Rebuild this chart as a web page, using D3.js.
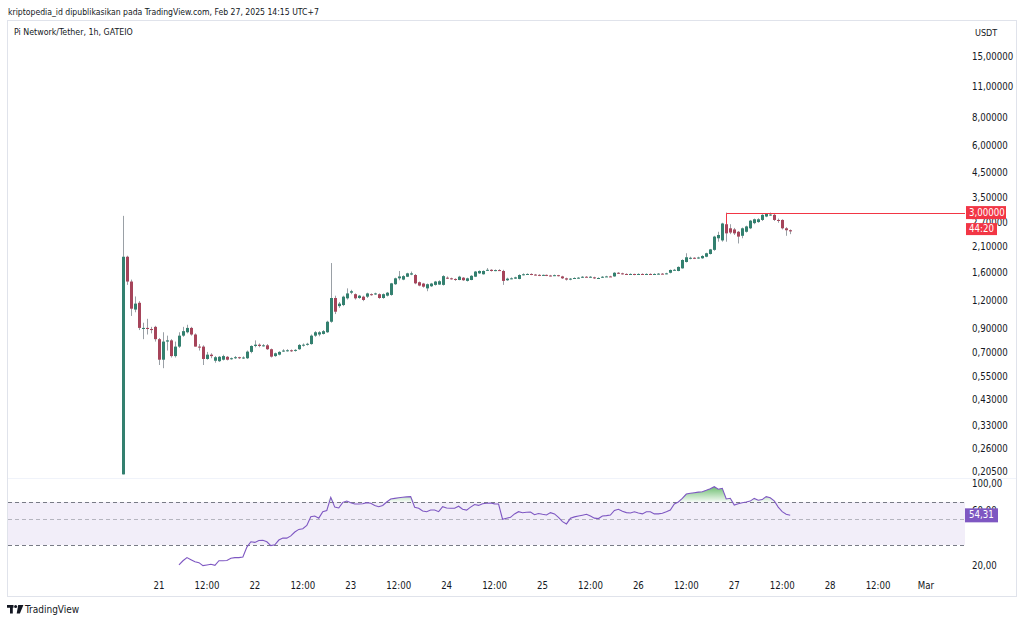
<!DOCTYPE html>
<html>
<head>
<meta charset="utf-8">
<script src="https://cdn.jsdelivr.net/npm/d3@7"></script>
<style>
  body { margin: 0; background: #fff; }
  svg { display: block; font-family: "Liberation Sans Narrow", "DejaVu Sans Condensed", "Liberation Sans", sans-serif; }
</style>
</head>
<body>
<svg id="chart" width="1024" height="623"></svg>
<script>
// ---- data (Pi Network / Tether 1h, GATEIO) ----
var headerText = "kriptopedia_id dipublikasikan pada TradingView.com, Feb 27, 2025 14:15 UTC+7";
var symbolText = "Pi Network/Tether, 1h, GATEIO";
var currency = "USDT";

// first hourly bar: Feb 20, 15:00 (UTC+7 wall clock, stored as UTC)
var firstBar = Date.UTC(2025, 1, 20, 15);

// [open, high, low, close] per hour
var ohlc = [
  [0.20, 2.90, 0.20, 1.90], [1.90, 1.92, 1.42, 1.47], [1.47, 1.50, 1.03, 1.11], [1.10, 1.26, 1.07, 1.17],
  [1.18, 1.20, 0.89, 0.91], [0.90, 0.96, 0.81, 0.91], [0.91, 1.00, 0.85, 0.90], [0.90, 0.92, 0.86, 0.89],
  [0.92, 0.93, 0.79, 0.81], [0.81, 0.82, 0.62, 0.655], [0.655, 0.87, 0.60, 0.79], [0.79, 0.84, 0.72, 0.80],
  [0.80, 0.81, 0.67, 0.68], [0.68, 0.79, 0.67, 0.75], [0.75, 0.87, 0.74, 0.84], [0.84, 0.92, 0.83, 0.88],
  [0.87, 0.94, 0.86, 0.91], [0.91, 0.92, 0.84, 0.85], [0.85, 0.86, 0.75, 0.75], [0.75, 0.77, 0.72, 0.745],
  [0.75, 0.76, 0.62, 0.66], [0.66, 0.71, 0.655, 0.69], [0.69, 0.70, 0.665, 0.68], [0.648, 0.68, 0.635, 0.672],
  [0.645, 0.68, 0.64, 0.675], [0.655, 0.69, 0.65, 0.68], [0.675, 0.68, 0.65, 0.655], [0.66, 0.67, 0.655, 0.665],
  [0.665, 0.68, 0.66, 0.672], [0.672, 0.675, 0.66, 0.665], [0.665, 0.678, 0.66, 0.67], [0.665, 0.72, 0.66, 0.712],
  [0.71, 0.76, 0.70, 0.755], [0.755, 0.80, 0.745, 0.765], [0.765, 0.775, 0.745, 0.755], [0.755, 0.77, 0.75, 0.76],
  [0.76, 0.77, 0.725, 0.73], [0.73, 0.735, 0.67, 0.676], [0.68, 0.705, 0.675, 0.70], [0.69, 0.715, 0.685, 0.71],
  [0.715, 0.73, 0.71, 0.72], [0.72, 0.73, 0.712, 0.722], [0.722, 0.728, 0.71, 0.718], [0.718, 0.73, 0.712, 0.725],
  [0.73, 0.77, 0.725, 0.763], [0.76, 0.775, 0.75, 0.765], [0.765, 0.78, 0.758, 0.772], [0.77, 0.85, 0.765, 0.84],
  [0.84, 0.88, 0.83, 0.87], [0.85, 0.88, 0.835, 0.87], [0.855, 0.89, 0.85, 0.88], [0.87, 0.98, 0.865, 0.97],
  [0.97, 1.78, 0.96, 1.24], [1.24, 1.27, 1.05, 1.076], [1.14, 1.19, 1.12, 1.17], [1.153, 1.27, 1.14, 1.257],
  [1.236, 1.37, 1.22, 1.30], [1.31, 1.35, 1.29, 1.33], [1.29, 1.30, 1.22, 1.236], [1.24, 1.28, 1.23, 1.27],
  [1.257, 1.27, 1.20, 1.215], [1.257, 1.31, 1.24, 1.30], [1.29, 1.30, 1.27, 1.285], [1.29, 1.31, 1.28, 1.30],
  [1.29, 1.30, 1.23, 1.24], [1.24, 1.30, 1.23, 1.29], [1.27, 1.32, 1.26, 1.31], [1.28, 1.45, 1.27, 1.443],
  [1.43, 1.53, 1.42, 1.52], [1.52, 1.64, 1.49, 1.55], [1.50, 1.57, 1.49, 1.555], [1.545, 1.61, 1.54, 1.60],
  [1.58, 1.63, 1.57, 1.60], [1.573, 1.59, 1.43, 1.443], [1.46, 1.47, 1.40, 1.41], [1.44, 1.45, 1.38, 1.394],
  [1.37, 1.44, 1.33, 1.43], [1.40, 1.45, 1.39, 1.44], [1.42, 1.48, 1.41, 1.47], [1.425, 1.49, 1.42, 1.475],
  [1.42, 1.57, 1.41, 1.555], [1.53, 1.55, 1.51, 1.52], [1.52, 1.53, 1.50, 1.51], [1.51, 1.52, 1.48, 1.495],
  [1.494, 1.56, 1.49, 1.546], [1.53, 1.54, 1.48, 1.49], [1.48, 1.53, 1.47, 1.52], [1.494, 1.57, 1.49, 1.56],
  [1.546, 1.64, 1.54, 1.63], [1.60, 1.65, 1.59, 1.64], [1.585, 1.65, 1.58, 1.64], [1.65, 1.69, 1.64, 1.66],
  [1.66, 1.67, 1.63, 1.64], [1.64, 1.665, 1.635, 1.655], [1.655, 1.67, 1.64, 1.65], [1.64, 1.66, 1.42, 1.48],
  [1.49, 1.53, 1.48, 1.515], [1.515, 1.535, 1.505, 1.52], [1.515, 1.545, 1.51, 1.535], [1.51, 1.585, 1.505, 1.573],
  [1.575, 1.60, 1.565, 1.585], [1.585, 1.60, 1.575, 1.59], [1.59, 1.60, 1.57, 1.58], [1.58, 1.59, 1.565, 1.575],
  [1.575, 1.585, 1.555, 1.565], [1.565, 1.58, 1.56, 1.575], [1.575, 1.58, 1.555, 1.565], [1.565, 1.575, 1.55, 1.56],
  [1.56, 1.58, 1.555, 1.57], [1.57, 1.575, 1.55, 1.56], [1.55, 1.56, 1.51, 1.52], [1.52, 1.53, 1.485, 1.50],
  [1.50, 1.525, 1.49, 1.515], [1.515, 1.535, 1.51, 1.525], [1.525, 1.54, 1.515, 1.53], [1.53, 1.555, 1.525, 1.545],
  [1.545, 1.555, 1.535, 1.54], [1.54, 1.555, 1.53, 1.545], [1.535, 1.545, 1.51, 1.52], [1.52, 1.535, 1.51, 1.525],
  [1.53, 1.555, 1.525, 1.545], [1.545, 1.56, 1.54, 1.55], [1.55, 1.56, 1.54, 1.545], [1.55, 1.62, 1.545, 1.61],
  [1.61, 1.62, 1.59, 1.60], [1.60, 1.61, 1.58, 1.59], [1.59, 1.60, 1.575, 1.585], [1.585, 1.60, 1.58, 1.59],
  [1.59, 1.595, 1.57, 1.58], [1.58, 1.60, 1.575, 1.59], [1.59, 1.60, 1.575, 1.585], [1.585, 1.60, 1.58, 1.59],
  [1.59, 1.60, 1.575, 1.585], [1.585, 1.60, 1.58, 1.59], [1.59, 1.605, 1.58, 1.595], [1.595, 1.605, 1.585, 1.59],
  [1.59, 1.61, 1.585, 1.60], [1.61, 1.665, 1.60, 1.657], [1.655, 1.675, 1.645, 1.66], [1.64, 1.72, 1.635, 1.71],
  [1.685, 1.85, 1.68, 1.837], [1.80, 1.97, 1.79, 1.89], [1.86, 1.90, 1.85, 1.88], [1.88, 1.89, 1.855, 1.87],
  [1.87, 1.90, 1.86, 1.885], [1.87, 1.93, 1.86, 1.915], [1.90, 1.98, 1.89, 1.97], [1.955, 2.06, 1.945, 2.05],
  [2.04, 2.36, 2.02, 2.34], [2.30, 2.46, 2.22, 2.38], [2.25, 2.70, 2.22, 2.68], [2.66, 3.00, 2.22, 2.42],
  [2.55, 2.66, 2.40, 2.44], [2.52, 2.56, 2.38, 2.42], [2.46, 2.48, 2.18, 2.34], [2.36, 2.57, 2.30, 2.55],
  [2.46, 2.62, 2.44, 2.60], [2.55, 2.78, 2.53, 2.76], [2.69, 2.82, 2.66, 2.80], [2.72, 2.83, 2.70, 2.80],
  [2.78, 2.95, 2.75, 2.93], [2.88, 2.98, 2.86, 2.96], [2.93, 3.00, 2.90, 2.94], [2.93, 2.96, 2.75, 2.78],
  [2.78, 2.82, 2.70, 2.76], [2.78, 2.80, 2.52, 2.55], [2.55, 2.58, 2.36, 2.50], [2.50, 2.52, 2.40, 2.47]
];

// RSI(14), first value on bar 14
var rsiFirstBar = 14;
var rsi = [
  20.5, 22.5, 24, 23, 22, 21.6, 20.2, 20.5, 20.8, 20.3,
  22.5, 22.5, 22.6, 23.7, 24, 24, 24.3, 29, 32.5, 32,
  33.5, 33.6, 32.5, 29.7, 30.2, 33.8, 35.4, 35.3, 37, 40,
  42, 42.5, 45, 52.7, 53.5, 51, 58.6, 60, 77.8, 64,
  63, 69.6, 71.7, 69, 67.6, 67.6, 68, 69.2, 68.5, 66,
  64.5, 66, 70, 75, 76, 77, 77.8, 78.5, 78.9, 63.8,
  62.6, 59.5, 58.5, 60.6, 60.6, 58.6, 64.5, 63, 62.6, 62.6,
  65, 61.5, 60.5, 64, 67, 66, 68, 68.5, 68.8, 67.8,
  67.6, 49.8, 50.8, 52, 56, 58.6, 57.4, 58, 58.3, 55,
  56.5, 55.5, 54.7, 57.5, 56, 52, 48, 46.2, 50.8, 52.5,
  53.5, 54.5, 55.5, 53.5, 51, 50.5, 53.5, 54, 54.7, 60,
  61.5, 59, 57.5, 57, 58.5, 57, 56, 58.6, 58.6, 56,
  56, 56.7, 58.5, 60.6, 67.6, 70, 76, 83.3, 84.5, 85.5,
  86.5, 87.2, 89.5, 92, 95.5, 91.2, 92.8, 75, 76.2, 66.5,
  68, 69.2, 70, 71.5, 76, 73, 74, 78.9, 77, 72,
  64, 58.6, 55.5, 54.31
];

var priceTicks = [0.205, 0.26, 0.33, 0.43, 0.55, 0.7, 0.9, 1.2, 1.6, 2.1, 2.7, 3.5, 4.5, 6, 8, 11, 15];
var rsiTicks = [100, 60, 20];
var rsiLevels = [20, 30, 50, 70, 100];   // stops of the RSI pane scale
var rsiBands = { upper: 70, middle: 50, lower: 30 };
var rayPrice = 3.0;       // horizontal ray from the high of bar 151
var rayBar = 151;
var countdown = "44:20";

// ---- setup ----
var svg = d3.select("#chart");
var plotLeft = 8, plotRight = 965;
var upColor = "#33806f", downColor = "#a6445a", wickColor = "#9aa0a6";
var textColor = "#131722";
var axisFont = 9.6;

var locale = d3.formatLocale({ decimal: ",", thousands: ".", grouping: [3], currency: ["", ""] });
var fmtPrice = locale.format(".5f");
var fmtRsi = locale.format(".2f");

var bars = ohlc.map(function(d, i) {
  return { t: new Date(firstBar + i * 3600e3), o: d[0], h: d[1], l: d[2], c: d[3] };
});
var rsiData = rsi.map(function(v, i) {
  return { t: bars[rsiFirstBar + i].t, v: v };
});

var x = d3.scaleUtc()
  .domain([Date.UTC(2025, 1, 21), Date.UTC(2025, 2, 1)])
  .range([159, 926]);
var y = d3.scaleLog().domain([0.205, 15]).range([472, 57]);
var yr = d3.scaleLinear().domain(rsiLevels).range([566, 545, 519, 502, 484]);

// ---- frame and header ----
svg.append("text")
  .attr("x", 8).attr("y", 12)
  .attr("dominant-baseline", "middle")
  .attr("font-size", 8.6)
  .attr("fill", textColor)
  .text(headerText);

svg.append("rect")
  .attr("x", 7.5).attr("y", 20.5)
  .attr("width", 1009).attr("height", 576)
  .attr("fill", "#fff")
  .attr("stroke", "#e0e3eb");

svg.append("text")
  .attr("x", 14).attr("y", 32.5)
  .attr("dominant-baseline", "middle")
  .attr("font-size", 8.8)
  .attr("fill", textColor)
  .text(symbolText);

// pane separator
svg.append("line")
  .attr("x1", plotLeft).attr("x2", 1016)
  .attr("y1", 478.5).attr("y2", 478.5)
  .attr("stroke", "#f0f3fa");

var defs = svg.append("defs");
defs.append("clipPath").attr("id", "plotClip")
  .append("rect").attr("x", plotLeft).attr("y", 21).attr("width", plotRight - plotLeft).attr("height", 575);

// ---- price pane ----
var pricePane = svg.append("g").attr("clip-path", "url(#plotClip)");

var candle = pricePane.selectAll("g.candle")
  .data(bars)
  .enter()
  .append("g")
  .attr("class", "candle");

candle.append("line")
  .attr("x1", function(d) { return Math.round(x(d.t)) + 0.5; })
  .attr("x2", function(d) { return Math.round(x(d.t)) + 0.5; })
  .attr("y1", function(d) { return y(d.h); })
  .attr("y2", function(d) { return y(d.l); })
  .attr("stroke", wickColor)
  .attr("stroke-width", 1);

candle.append("rect")
  .attr("x", function(d) { return Math.round(x(d.t)) - 1; })
  .attr("width", 3)
  .attr("y", function(d) { return y(Math.max(d.o, d.c)); })
  .attr("height", function(d) { return Math.max(1, Math.abs(y(d.o) - y(d.c))); })
  .attr("fill", function(d) { return d.c >= d.o ? upColor : downColor; });

// horizontal ray
pricePane.append("line")
  .attr("x1", Math.round(x(bars[rayBar].t)) + 0.5)
  .attr("x2", plotRight)
  .attr("y1", Math.round(y(rayPrice)) + 0.5)
  .attr("y2", Math.round(y(rayPrice)) + 0.5)
  .attr("stroke", "#f23645")
  .attr("stroke-width", 1);
pricePane.append("line")
  .attr("x1", Math.round(x(bars[rayBar].t)) + 0.5)
  .attr("x2", Math.round(x(bars[rayBar].t)) + 0.5)
  .attr("y1", Math.round(y(rayPrice)) + 0.5)
  .attr("y2", y(bars[rayBar].o))
  .attr("stroke", "#f23645")
  .attr("stroke-width", 1);

// price axis labels
svg.append("text")
  .attr("x", 975).attr("y", 33.5)
  .attr("dominant-baseline", "middle")
  .attr("font-size", 9)
  .attr("fill", textColor)
  .text(currency);

svg.selectAll("text.ptick")
  .data(priceTicks)
  .enter()
  .append("text")
  .attr("class", "ptick")
  .attr("x", 972)
  .attr("y", function(d) { return y(d); })
  .attr("dominant-baseline", "middle")
  .attr("font-size", axisFont)
  .attr("fill", textColor)
  .text(function(d) { return fmtPrice(d); });

// ray price label + countdown
var ry = y(rayPrice);
svg.append("rect").attr("x", 966).attr("y", ry - 6.5).attr("width", 40).attr("height", 13).attr("fill", "#f23645");
svg.append("text")
  .attr("x", 969).attr("y", ry)
  .attr("dominant-baseline", "middle")
  .attr("font-size", axisFont)
  .attr("fill", "#fff")
  .text(fmtPrice(rayPrice));
svg.append("rect").attr("x", 966).attr("y", ry + 10.5).attr("width", 31).attr("height", 12).attr("fill", "#f23645");
svg.append("text")
  .attr("x", 969).attr("y", ry + 16.5)
  .attr("dominant-baseline", "middle")
  .attr("font-size", axisFont)
  .attr("fill", "#fff")
  .text(countdown);

// ---- RSI pane ----
var rsiPane = svg.append("g").attr("clip-path", "url(#plotClip)");

rsiPane.append("rect")
  .attr("x", plotLeft).attr("width", plotRight - plotLeft)
  .attr("y", yr(rsiBands.upper))
  .attr("height", yr(rsiBands.lower) - yr(rsiBands.upper))
  .attr("fill", "#7e57c2")
  .attr("fill-opacity", 0.1);

rsiPane.selectAll("line.band")
  .data([rsiBands.upper, rsiBands.middle, rsiBands.lower])
  .enter()
  .append("line")
  .attr("class", "band")
  .attr("x1", plotLeft).attr("x2", plotRight)
  .attr("y1", function(d) { return Math.round(yr(d)) + 0.5; })
  .attr("y2", function(d) { return Math.round(yr(d)) + 0.5; })
  .attr("stroke", "#787b86")
  .attr("stroke-opacity", function(d) { return d === rsiBands.middle ? 0.5 : 1; })
  .attr("stroke-dasharray", "4,3");

var grad = defs.append("linearGradient")
  .attr("id", "obGrad")
  .attr("gradientUnits", "userSpaceOnUse")
  .attr("x1", 0).attr("x2", 0)
  .attr("y1", yr(100)).attr("y2", yr(rsiBands.upper));
grad.append("stop").attr("offset", "0%").attr("stop-color", "#4caf50").attr("stop-opacity", 0.95);
grad.append("stop").attr("offset", "100%").attr("stop-color", "#4caf50").attr("stop-opacity", 0.05);

rsiPane.append("path")
  .datum(rsiData)
  .attr("fill", "url(#obGrad)")
  .attr("d", d3.area()
    .x(function(d) { return x(d.t); })
    .y0(yr(rsiBands.upper))
    .y1(function(d) { return yr(Math.max(d.v, rsiBands.upper)); }));

rsiPane.append("path")
  .datum(rsiData)
  .attr("fill", "none")
  .attr("stroke", "#7e57c2")
  .attr("stroke-width", 1.1)
  .attr("d", d3.line()
    .x(function(d) { return x(d.t); })
    .y(function(d) { return yr(d.v); }));

svg.selectAll("text.rtick")
  .data(rsiTicks)
  .enter()
  .append("text")
  .attr("class", "rtick")
  .attr("x", 972)
  .attr("y", function(d) { return yr(d); })
  .attr("dominant-baseline", "middle")
  .attr("font-size", axisFont)
  .attr("fill", textColor)
  .text(function(d) { return fmtRsi(d); });

var lastRsi = rsi[rsi.length - 1];
svg.append("rect").attr("x", 965).attr("y", yr(lastRsi) - 7).attr("width", 33).attr("height", 14).attr("fill", "#7e57c2");
svg.append("text")
  .attr("x", 969).attr("y", yr(lastRsi))
  .attr("dominant-baseline", "middle")
  .attr("font-size", axisFont)
  .attr("fill", "#fff")
  .text(fmtRsi(lastRsi));

// ---- time axis ----
var timeTicks = d3.utcHour.every(12).range(Date.UTC(2025, 1, 21), Date.UTC(2025, 2, 1, 1));
function fmtTime(d) {
  if (d.getUTCHours() === 12) return "12:00";
  if (d.getUTCDate() === 1) return "Mar";
  return String(d.getUTCDate());
}
svg.selectAll("text.xtick")
  .data(timeTicks)
  .enter()
  .append("text")
  .attr("class", "xtick")
  .attr("x", function(d) { return x(d); })
  .attr("y", 586)
  .attr("text-anchor", "middle")
  .attr("dominant-baseline", "middle")
  .attr("font-size", axisFont)
  .attr("fill", textColor)
  .text(fmtTime);

// ---- TradingView mark ----
var logo = svg.append("g").attr("transform", "translate(7,605)").attr("fill", "#131722");
logo.append("path").attr("d", "M0 0H6.5V2.8H5.8V8.5H3V2.8H0Z");
logo.append("circle").attr("cx", 8.6).attr("cy", 1.5).attr("r", 1.5);
logo.append("path").attr("d", "M11.2 0H16.4L12.9 8.5H9.7Z");
svg.append("text")
  .attr("x", 25).attr("y", 609.5)
  .attr("dominant-baseline", "middle")
  .attr("font-size", 10)
  .attr("fill", textColor)
  .text("TradingView");
</script>
</body>
</html>
